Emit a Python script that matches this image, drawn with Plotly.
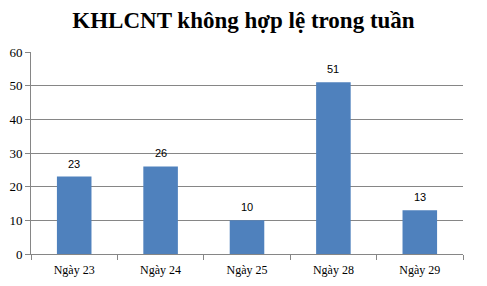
import plotly.graph_objects as go

categories = ["Ngày 23", "Ngày 24", "Ngày 25", "Ngày 28", "Ngày 29"]
values = [23, 26, 10, 51, 13]
y_ticks = [0, 10, 20, 30, 40, 50, 60]
title_text = "KHLCNT không hợp lệ trong tuần"

fig = go.Figure(go.Bar(
    x=categories, y=values,
    marker=dict(color="#4F81BD", line=dict(width=0)),
    width=0.4,
))

for c, v in zip(categories, values):
    fig.add_annotation(x=c, y=v, text=str(v), showarrow=False,
                       yanchor="middle", yshift=13,
                       font=dict(family="Liberation Sans", size=11, color="#000000"))

fig.update_layout(
    width=487, height=286,
    margin=dict(l=31, r=24, t=52, b=32),
    paper_bgcolor="white", plot_bgcolor="white",
    showlegend=False,
    title=dict(text="<b>" + title_text + "</b>", x=0.5, xanchor="center",
               y=0.93, yanchor="middle",
               font=dict(family="Liberation Serif", size=23, color="#000000")),
    xaxis=dict(
        automargin=False,
        showline=True, linecolor="#868686", linewidth=1,
        ticks="outside", tickson="boundaries", ticklen=5, tickcolor="#868686",
        tickfont=dict(family="Liberation Serif", size=12, color="#000000"),
        ticklabelstandoff=5,
        showgrid=False,
    ),
    yaxis=dict(
        automargin=False,
        range=[0, 60], tickvals=y_ticks,
        showline=True, linecolor="#868686", linewidth=1,
        ticks="outside", ticklen=5, tickcolor="#868686",
        showgrid=True, gridcolor="#868686", gridwidth=1,
        tickfont=dict(family="Liberation Serif", size=13, color="#000000"),
        zeroline=False,
    ),
    bargap=0.6,
)

fig.write_html("out.html")
